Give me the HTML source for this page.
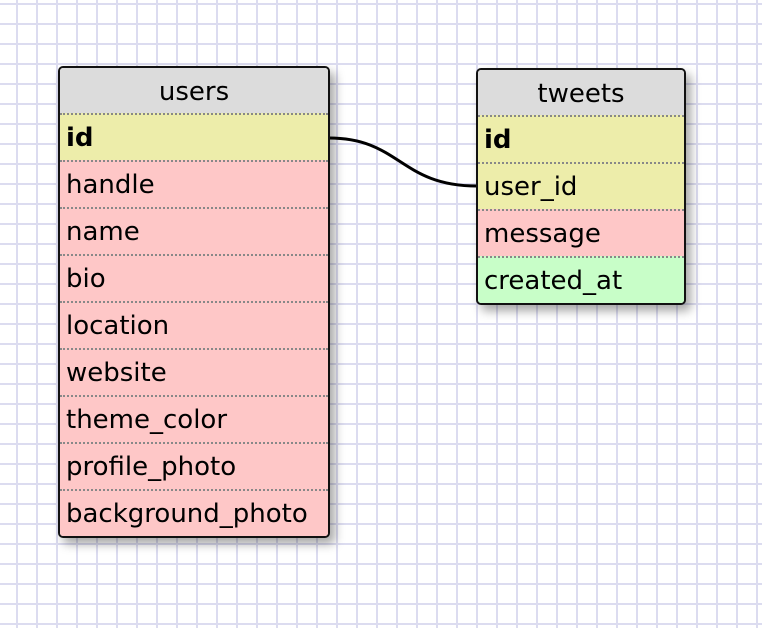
<!DOCTYPE html>
<html><head><style>
body{margin:0;width:762px;height:628px;overflow:hidden;background:#fff;
background-image:linear-gradient(to right,#dcdcf0 2px,transparent 2px),linear-gradient(to bottom,#dcdcf0 2px,transparent 2px);
background-size:20px 20px;background-position:16px 3px;font-family:"DejaVu Sans","Liberation Sans",sans-serif;position:relative}
.t{position:absolute;border:2px solid #111;border-radius:5px;box-shadow:5px 6px 10px rgba(0,0,0,.35);overflow:hidden;background:#fff}
.h{background:#dcdcdc;height:45px;line-height:49px;text-align:center;font-size:26px;color:#000}
.r{height:45px;line-height:47px;padding-left:6px;font-size:26px;border-top:2px dotted #888;color:#000;white-space:nowrap}
.y{background:#ededaa}.p{background:#fec7c7}.g{background:#c8fec8}
b{font-weight:bold}
</style></head><body>
<svg style="position:absolute;left:0;top:0" width="762" height="628"><path d="M329 138 C400 138,400 186,477 186" stroke="#000" stroke-width="3" fill="none"/></svg>
<div class="t" style="left:58px;top:66px;width:268px">
<div class="h">users</div>
<div class="r y"><b>id</b></div>
<div class="r p">handle</div>
<div class="r p">name</div>
<div class="r p">bio</div>
<div class="r p">location</div>
<div class="r p">website</div>
<div class="r p">theme_color</div>
<div class="r p">profile_photo</div>
<div class="r p">background_photo</div>
</div>
<div class="t" style="left:476px;top:68px;width:206px">
<div class="h">tweets</div>
<div class="r y"><b>id</b></div>
<div class="r y">user_id</div>
<div class="r p">message</div>
<div class="r g">created_at</div>
</div>
</body></html>
